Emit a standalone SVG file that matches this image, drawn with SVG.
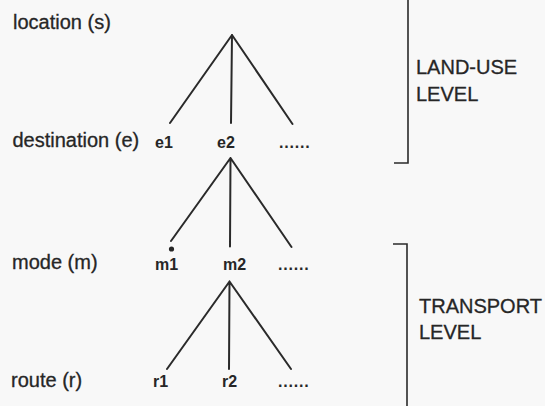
<svg xmlns="http://www.w3.org/2000/svg" width="545" height="406" viewBox="0 0 545 406">
<style>
.lbl{font-family:"Liberation Sans",Arial,sans-serif;font-size:20px;fill:#262626;stroke:#262626;stroke-width:0.3}
.it{font-family:"Liberation Sans",Arial,sans-serif;font-size:16px;font-weight:bold;fill:#262626}
.dots{font-family:"Liberation Sans",Arial,sans-serif;font-size:16px;font-weight:bold;fill:#262626;letter-spacing:0.8px}
.ln{stroke:#2a2a2a;stroke-width:2;fill:none;stroke-linecap:round}
.br{stroke:#2a2a2a;stroke-width:1.6;fill:none}
</style>
<rect width="545" height="406" fill="#f8f8f8"/>
<g id="level-labels">
<text class="lbl" x="13" y="28.5">location (s)</text>
<text class="lbl" x="12.5" y="147">destination (e)</text>
<text class="lbl" x="12" y="268.5">mode (m)</text>
<text class="lbl" x="11" y="386.5">route (r)</text>
</g>
<g id="node-e">
<text class="it" x="155" y="147.5">e1</text>
<text class="it" x="217" y="147.5">e2</text>
<text class="dots" x="279" y="147.5">......</text>
</g>
<g id="node-m">
<text class="it" x="155" y="270">m1</text>
<text class="it" x="223" y="270">m2</text>
<text class="dots" x="278" y="270">......</text>
</g>
<g id="node-r">
<text class="it" x="153" y="386.5">r1</text>
<text class="it" x="222" y="386.5">r2</text>
<text class="dots" x="278" y="386.5">......</text>
</g>
<g id="connectors">
<path class="ln" d="M232,35 L170,123 M232,35 L231,123 M232,35 L292.5,124"/>
<path class="ln" d="M230.5,158 L171,241 M230.5,158 L230,246.5 M230.5,158 L291.5,247"/>
<circle cx="171.5" cy="249" r="2.6" fill="#262626"/>
<path class="ln" d="M229.5,281.5 L167,369 M229.5,281.5 L229,369 M229.5,281.5 L291,369"/>
</g>
<g id="land-use-level">
<path class="br" d="M408,0 L408,163 L394,163"/>
<text class="lbl" x="416" y="73.5">LAND-USE</text>
<text class="lbl" x="416" y="101">LEVEL</text>
</g>
<g id="transport-level">
<path class="br" d="M393,244 L407,244 L407,406"/>
<text class="lbl" x="419" y="313">TRANSPORT</text>
<text class="lbl" x="419" y="339">LEVEL</text>
</g>
</svg>
